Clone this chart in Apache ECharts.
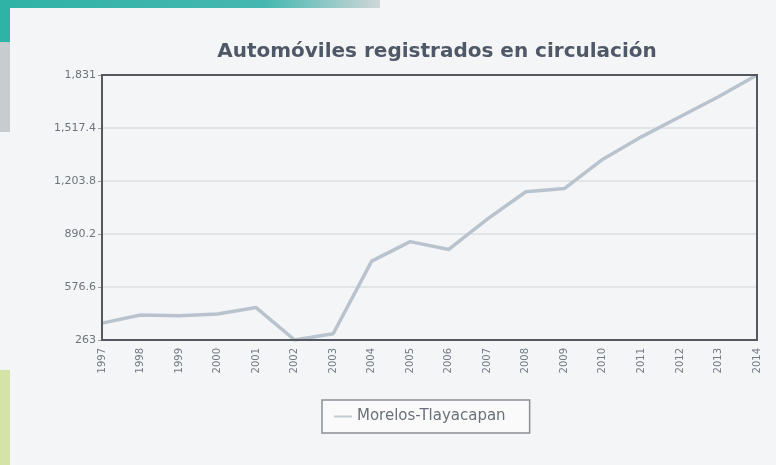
<!DOCTYPE html>
<html>
<head>
<meta charset="utf-8">
<script src="https://cdn.jsdelivr.net/npm/echarts@6/dist/echarts.min.js"></script>
<style>
  html, body { margin: 0; padding: 0; background: #f4f5f6; }
  #chart { width: 776px; height: 465px; }
</style>
</head>
<body>
<div id="chart"></div>
<script>
// datos
const years = ['1997', '1998', '1999', '2000', '2001', '2002', '2003', '2004', '2005',
  '2006', '2007', '2008', '2009', '2010', '2011', '2012', '2013', '2014'];
const autos = [363, 411, 407, 417, 455, 263, 300, 730, 845,
  799, 978, 1140, 1159, 1333, 1465, 1584, 1702, 1831];
const yTicks = [263, 576.6, 890.2, 1203.8, 1517.4, 1831];
const seriesName = 'Morelos-Tlayacapan';

let chart = echarts.init(document.getElementById('chart'));
chart.setOption({
  backgroundColor: '#f4f5f6',
  animation: false,
  title: {
    text: 'Automóviles registrados en circulación',
    left: 432,
    textAlign: 'center',
    top: 37,
    textStyle: {
      fontFamily: 'DejaVu Sans',
      fontSize: 20,
      fontWeight: 'bold',
      color: '#4f5866'
    }
  },
  legend: {
    data: [seriesName],
    left: 322,
    top: 400,
    padding: [9, 24, 9, 12],
    backgroundColor: '#fafafa',
    borderColor: '#8a8f96',
    borderWidth: 1.5,
    icon: 'rect',
    itemWidth: 18,
    itemHeight: 2,
    itemGap: 10,
    textStyle: { color: '#6a7079', fontSize: 15, fontFamily: 'DejaVu Sans' }
  },
  grid: { left: 102, right: 19, top: 75, bottom: 125, containLabel: false },
  xAxis: {
    type: 'category',
    boundaryGap: false,
    data: years,
    axisLine: { show: true, lineStyle: { color: '#55595f', width: 2 } },
    axisTick: { show: false },
    axisLabel: {
      rotate: 90,
      interval: 0,
      margin: 8,
      fontSize: 10,
      color: '#737a83',
      fontFamily: 'DejaVu Sans'
    },
    splitLine: { show: false }
  },
  yAxis: {
    type: 'value',
    min: 263,
    max: 1831,
    axisLine: { show: true, lineStyle: { color: '#55595f', width: 2 } },
    axisTick: { show: true, customValues: yTicks, length: 4, lineStyle: { color: '#9aa0a6' } },
    axisLabel: {
      customValues: yTicks,
      fontSize: 11,
      color: '#6e747c',
      fontFamily: 'DejaVu Sans',
      margin: 6,
      formatter: v => v.toLocaleString('en-US', { maximumFractionDigits: 1 })
    },
    splitLine: { show: true, lineStyle: { color: '#dcdfe2', width: 1.5 } }
  },
  graphic: [
    {
      // borde superior de la foto
      type: 'rect',
      shape: { x: 0, y: 0, width: 380, height: 8 },
      style: {
        fill: new echarts.graphic.LinearGradient(0, 0, 1, 0, [
          { offset: 0, color: '#2fb3a6' },
          { offset: 0.7, color: '#46b7b0' },
          { offset: 1, color: '#cfd6d8' }
        ])
      },
      z: 0
    },
    {
      type: 'rect',
      shape: { x: 0, y: 0, width: 10, height: 42 },
      style: { fill: '#2fb3a6' },
      z: 0
    },
    {
      type: 'rect',
      shape: { x: 0, y: 42, width: 10, height: 90 },
      style: { fill: '#c9ccce' },
      z: 0
    },
    {
      type: 'rect',
      shape: { x: 0, y: 370, width: 10, height: 95 },
      style: { fill: '#d6e3a8' },
      z: 0
    },
    {
      // marco del area de trazado
      type: 'rect',
      shape: { x: 102, y: 75, width: 655, height: 265 },
      style: { fill: 'none', stroke: '#55595f', lineWidth: 2 },
      z: 10
    }
  ],
  series: [
    {
      name: seriesName,
      type: 'line',
      data: autos,
      showSymbol: false,
      lineStyle: { color: '#b9c3ce', width: 3.5 },
      itemStyle: { color: '#c3ccd6' }
    }
  ]
});
</script>
</body>
</html>
